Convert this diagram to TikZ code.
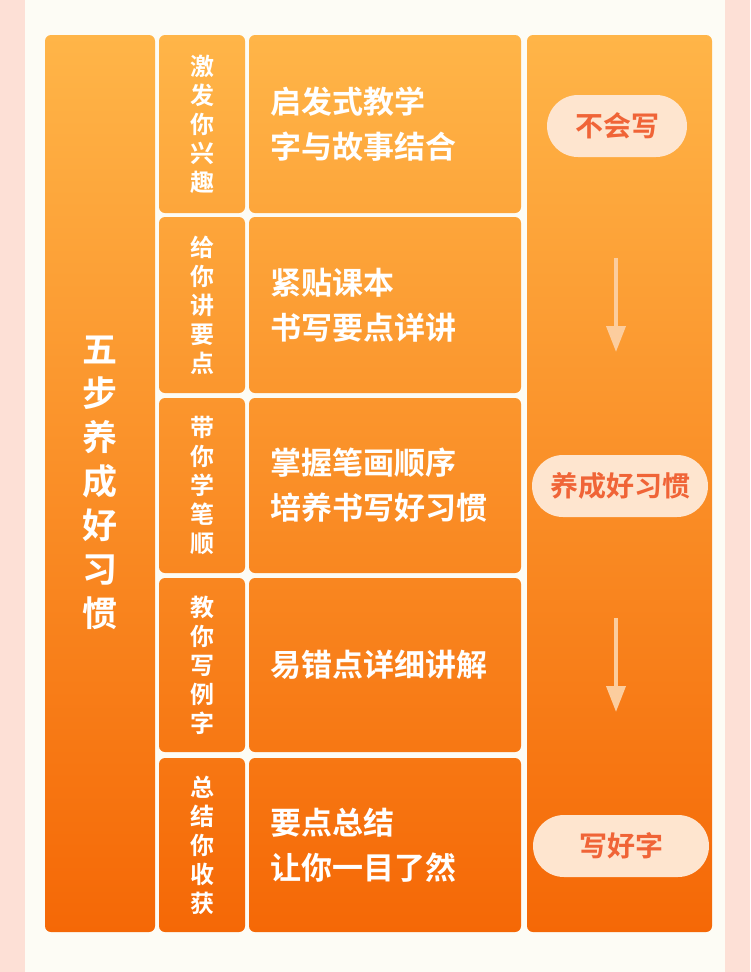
\documentclass[tikz,border=0pt]{standalone}
\usepackage{fontspec}
\newfontfamily\cjk{Noto Sans CJK SC}[BoldFont={Noto Sans CJK SC Bold}]
\definecolor{ctop}{RGB}{255,181,72}
\definecolor{cbot}{RGB}{245,104,6}
\definecolor{pill}{RGB}{254,229,207}
\definecolor{pilltxt}{RGB}{240,100,55}
\definecolor{arr}{RGB}{252,205,158}
\definecolor{bgc}{RGB}{253,252,245}
\definecolor{side}{RGB}{253,224,214}
\tikzset{
 cell/.style={rounded corners=6pt,draw=none},
 wt/.style={text=white,font=\cjk\bfseries},
 pillbox/.style={fill=pill,rounded corners=31pt,minimum height=62pt,text=pilltxt,font=\cjk\bfseries\fontsize{28}{30}\selectfont,inner sep=0pt},
 darr/.style={draw=arr,line width=4pt,-{Triangle[length=26pt,width=26pt,angle'=40]}}
}
\usetikzlibrary{arrows.meta}
\begin{document}
\begin{tikzpicture}[x=1pt,y=-1pt]
\useasboundingbox (0,0) rectangle (750,972);
\fill[side] (0,0) rectangle (750,972);
\fill[bgc] (25,0) rectangle (725,972);
\shade[cell,top color=ctop,bottom color=cbot] (45,35) rectangle (155,932);
\shade[cell,top color=ctop,bottom color=cbot] (527,35) rectangle (712,932);
\node[wt,font=\cjk\bfseries\fontsize{35}{44}\selectfont,align=center] (L) at (100,483) {五\\步\\养\\成\\好\\习\\惯};
\foreach \i/\a/\b/\lab/\la/\lb in {
 1/35/213/{激\\发\\你\\兴\\趣}/启发式教学/字与故事结合,
 2/217/393/{给\\你\\讲\\要\\点}/紧贴课本/书写要点详讲,
 3/398/573/{带\\你\\学\\笔\\顺}/掌握笔画顺序/培养书写好习惯,
 4/578/752/{教\\你\\写\\例\\字}/易错点详细讲解/,
 5/758/932/{总\\结\\你\\收\\获}/要点总结/让你一目了然}{
 \pgfmathsetmacro\ta{(\a-35)/897*100}
 \pgfmathsetmacro\tb{(\b-35)/897*100}
 \shade[cell,top color=cbot!\ta!ctop,bottom color=cbot!\tb!ctop] (159,\a) rectangle (245,\b);
 \shade[cell,top color=cbot!\ta!ctop,bottom color=cbot!\tb!ctop] (249,\a) rectangle (521,\b);
 \node[wt,font=\cjk\bfseries\fontsize{24}{29}\selectfont,align=center] (v\i) at (202,{(\a+\b)/2}) {\lab};
 \node[wt,font=\cjk\bfseries\fontsize{31}{45}\selectfont,align=left,anchor=west] (c\i) at (267,{(\a+\b)/2}) {\la\ifx\lb\empty\else\\\lb\fi};
}
\node[pillbox,minimum width=140pt] (p1) at (617,126) {不会写};
\node[pillbox,minimum width=176pt] (p2) at (620,486) {养成好习惯};
\node[pillbox,minimum width=176pt] (p3) at (621,846) {写好字};
\coordinate (a1) at (616,258); \coordinate (b1) at (616,352);
\coordinate (a2) at (616,618); \coordinate (b2) at (616,712);
\draw[darr] (a1) -- (b1);
\draw[darr] (a2) -- (b2);
\end{tikzpicture}
\end{document}
